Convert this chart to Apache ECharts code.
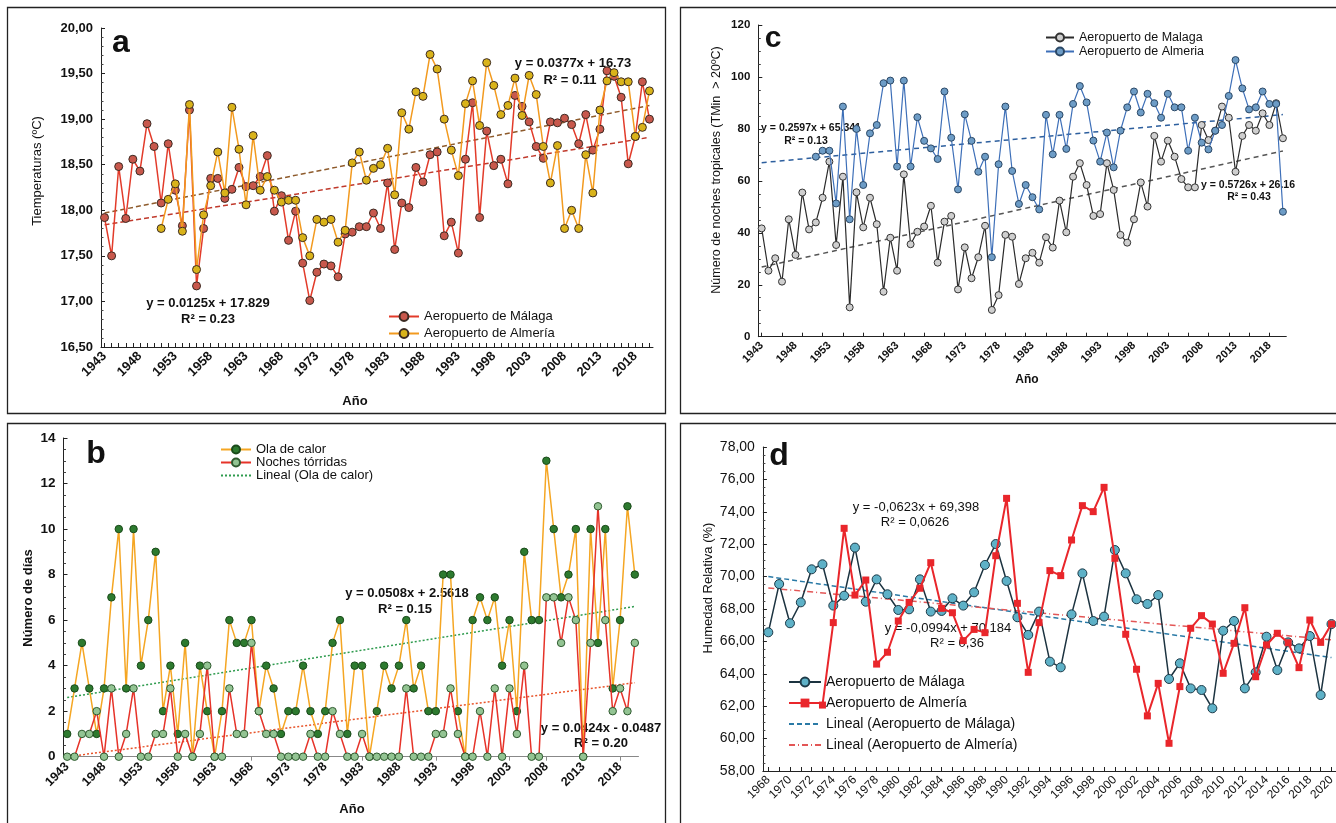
<!DOCTYPE html>
<html><head><meta charset="utf-8">
<script src="https://cdn.jsdelivr.net/npm/echarts@6/dist/echarts.min.js"></script>
<style>html,body{margin:0;padding:0;background:#fff}#c{width:1336px;height:823px}</style>
</head><body><div id="c"></div>
<script>
const F = '"Liberation Sans", Arial, sans-serif';

// ---------- categories ----------
const yearsLong = []; for (let y = 1943; y <= 2020; y++) yearsLong.push(String(y));
const yearsHum = []; for (let y = 1968; y <= 2020; y++) yearsHum.push(String(y));

// ---------- panel a: temperature (1943-2020) ----------
const tempMalaga = [17.92,17.50,18.48,17.91,18.56,18.43,18.95,18.70,18.08,18.73,
 18.22,17.83,19.10,17.17,17.80,18.35,18.35,18.13,18.23,18.47,
 18.26,18.27,18.37,18.60,17.99,18.16,17.67,17.99,17.42,17.01,
 17.32,17.41,17.39,17.27,17.74,17.76,17.82,17.82,17.97,17.80,
 18.30,17.57,18.08,18.03,18.47,18.31,18.61,18.64,17.72,17.87,
 17.53,18.56,19.18,17.92,18.87,18.49,18.56,18.29,19.26,19.14,
 18.97,18.70,18.57,18.97,18.96,19.01,18.94,18.73,19.05,18.66,
 18.89,19.53,19.47,19.24,18.51,18.81,19.41,19.00];
// Almería from 1951
const tempAlmeria = [17.80,18.12,18.29,17.77,19.16,17.35,17.95,18.27,18.64,18.19,
 19.13,18.67,18.06,18.82,18.22,18.37,18.22,18.09,18.11,18.11,
 17.70,17.50,17.90,17.87,17.90,17.65,17.78,18.52,18.64,18.33,
 18.46,18.50,18.68,18.17,19.07,18.89,19.30,19.25,19.71,19.55,
 19.00,18.66,18.38,19.17,19.42,18.93,19.62,19.37,19.05,19.15,
 19.45,19.04,19.48,19.27,18.70,18.30,18.71,17.80,18.00,17.80,
 18.61,18.19,19.10,19.42,19.51,19.41,19.41,18.81,18.91,19.31];
const tempTrendMalaga = [17.84, 18.80];
const tempTrendAlmeria = [17.97, 19.15];

// ---------- panel b: days (1943-2020) ----------
const olaCalor = [1,3,5,3,1,3,7,10,3,10,
 4,6,9,2,4,1,5,0,4,2,
 0,2,6,5,5,6,2,4,3,1,
 2,2,4,2,1,2,5,6,1,4,
 4,0,2,4,3,4,6,3,4,2,
 2,8,8,2,0,6,7,6,7,4,
 6,2,9,6,6,13,10,7,8,10,
 0,10,5,10,3,6,11,8];
const nochesTorridas = [0,0,1,1,2,0,3,0,1,3,
 0,0,1,1,3,0,1,0,1,4,
 0,0,3,1,1,5,2,1,1,0,
 0,0,0,1,0,0,2,1,0,0,
 1,0,0,0,0,0,3,0,0,0,
 1,1,3,1,0,0,2,0,3,0,
 3,1,4,0,0,7,7,5,7,6,
 0,5,11,6,2,3,2,5];
const trendOla = [2.6, 6.6];
const trendNoches = [0.0, 3.25];

// ---------- panel c: tropical nights (1943-2020) ----------
const tropMalaga = [41.7,25.4,30.2,21.2,45.2,31.5,55.5,41.3,44.0,53.5,
 67.4,35.3,61.6,11.3,55.6,42.1,53.5,43.3,17.3,38.1,
 25.4,62.5,35.6,40.4,42.4,50.4,28.5,44.3,46.5,18.2,
 34.4,22.5,30.6,42.7,10.3,16.0,39.2,38.5,20.3,30.2,
 32.3,28.5,38.3,34.3,52.4,40.2,61.6,66.8,58.4,46.5,
 47.2,66.8,56.5,39.2,36.2,45.2,59.4,50.1,77.3,67.4,
 75.5,69.3,60.7,57.5,57.5,81.5,75.7,79.3,88.6,84.3,
 63.5,77.3,81.5,79.3,86.0,81.5,89.9,76.4];
// Almería from 1951
const tropAlmeria = [69.3,71.6,71.6,51.3,88.6,45.2,80.0,58.4,78.3,81.5,
 97.6,98.6,65.5,98.6,65.5,84.5,75.4,72.5,68.4,94.4,
 76.6,56.7,85.6,75.4,63.5,69.3,30.6,66.4,88.6,63.8,
 51.1,58.4,53.7,49.0,85.4,70.2,85.4,72.3,89.6,96.5,
 90.2,75.5,67.4,78.6,65.2,79.3,88.3,94.4,86.3,93.5,
 89.9,84.3,93.5,88.3,88.3,71.6,84.3,74.7,72.1,79.3,
 81.5,92.7,106.5,95.6,87.5,88.3,94.4,89.6,89.6,48.1];
const tropTrendMalaga = [26.8, 71.5];
const tropTrendAlmeria = [67.0, 85.5];

// ---------- panel d: relative humidity (1968-2020) ----------
const humMalaga = [66.56,69.54,67.12,68.41,70.45,70.76,68.21,68.82,71.79,68.45,
 69.83,68.91,67.94,67.98,69.83,67.84,67.88,68.66,68.21,69.03,
 70.72,72.01,69.73,67.49,66.40,67.84,64.75,64.40,67.67,70.20,
 67.26,67.53,71.64,70.20,68.60,68.31,68.86,63.68,64.65,63.10,
 63.00,61.87,66.66,67.26,63.10,64.09,66.29,64.23,65.94,65.57,
 66.33,62.69,67.07];
// Almería from 1973
const humAlmeria = [62.07,67.16,72.98,68.86,69.79,64.60,65.33,67.26,68.41,69.28,
 70.86,68.04,67.77,66.05,66.74,66.54,71.29,74.83,68.35,64.09,
 67.16,70.37,70.06,72.26,74.38,74.01,75.51,71.13,66.44,64.28,
 61.40,63.41,59.71,63.21,66.81,67.59,67.07,64.03,65.88,68.08,
 63.82,65.78,66.50,65.92,64.38,67.32,65.94,67.07];
const humTrendMalaga = [70.0, 65.0];
const humTrendAlmeria = [69.3, 66.1];

// ---------- helpers ----------
function pad(arr, n) { return new Array(n - arr.length).fill(null).concat(arr); }
function trend(cats, ends) { return [[cats[0], ends[0]], [cats[cats.length - 1], ends[1]]]; }
const comma2 = v => v.toFixed(2).replace('.', ',');

function xAxis(gi, cats, o) {
  return {
    type: 'category', gridIndex: gi, data: cats, boundaryGap: true,
    axisLine: { lineStyle: { color: o.lineColor || '#222', width: 1 } },
    axisTick: { show: true, inside: o.tickInside !== false, length: 4, interval: o.tickInterval, alignWithLabel: true, lineStyle: { color: o.lineColor || '#222' } },
    axisLabel: { interval: o.labelInterval, rotate: 45, margin: o.margin || 7, color: '#111', fontFamily: F, fontSize: o.fs, fontWeight: o.fw || 'normal' },
    splitLine: { show: false }
  };
}
function yAxis(gi, o) {
  return {
    type: 'value', gridIndex: gi, min: o.min, max: o.max, interval: o.interval,
    axisLine: { show: true, lineStyle: { color: '#222', width: 1 } },
    axisTick: { show: true, inside: true, length: 4, lineStyle: { color: '#222' } },
    minorTick: { show: true, splitNumber: o.minor, length: 2.5, lineStyle: { color: '#444' } },
    axisLabel: { formatter: o.fmt, color: '#111', fontFamily: F, fontSize: o.fs, fontWeight: o.fw || 'normal', margin: o.margin || 8 },
    splitLine: { show: false }
  };
}
function dataLine(name, xi, data, lineColor, lineW, fill, border, sym, size, z) {
  return { name: name, type: 'line', xAxisIndex: xi, yAxisIndex: xi, data: data,
    symbol: sym, symbolSize: size, showSymbol: true, showAllSymbol: true,
    lineStyle: { color: lineColor, width: lineW },
    itemStyle: { color: fill, borderColor: border || fill, borderWidth: border ? 1 : 0 }, z: z };
}
function trendLine(name, xi, data, color, type) {
  return { name: name, type: 'line', xAxisIndex: xi, yAxisIndex: xi, data: data,
    symbol: 'circle', showSymbol: false, symbolSize: 0,
    lineStyle: { color: color, width: 1.5, type: type },
    itemStyle: { color: 'rgba(0,0,0,0)', borderWidth: 0 }, z: 2 };
}
function text(t, x, y, font, extra) {
  return Object.assign({ type: 'text', x: x, y: y, silent: true,
    style: { text: t, font: font, fill: '#111', textAlign: 'center', textVerticalAlign: 'middle' } }, extra || {});
}
function box(x, y, w, h) {
  return { type: 'rect', silent: true, shape: { x: x, y: y, width: w, height: h }, style: { fill: 'none', stroke: '#222', lineWidth: 1.3 } };
}

const nL = yearsLong.length;

const option = {
  animation: false,
  backgroundColor: '#fff',
  grid: [
    { left: 101, top: 28, width: 552, height: 319, outerBoundsMode: 'none' },
    { left: 63.5, top: 438, width: 575, height: 318.7, outerBoundsMode: 'none' },
    { left: 758.3, top: 25, width: 528, height: 311.7, outerBoundsMode: 'none' },
    { left: 762.9, top: 447, width: 574, height: 324, outerBoundsMode: 'none' }
  ],
  xAxis: [
    xAxis(0, yearsLong, { fs: 13, fw: 'bold', labelInterval: 4, tickInterval: 0 }),
    xAxis(1, yearsLong, { fs: 12.5, fw: 'bold', labelInterval: 4, tickInterval: 4, lineColor: '#888', tickInside: false, margin: 8 }),
    xAxis(2, yearsLong, { fs: 11, fw: 'bold', labelInterval: 4, tickInterval: 2 }),
    xAxis(3, yearsHum, { fs: 12, labelInterval: 1, tickInterval: 0 })
  ],
  yAxis: [
    yAxis(0, { min: 16.5, max: 20, interval: 0.5, minor: 5, fmt: comma2, fs: 13, fw: 'bold' }),
    yAxis(1, { min: 0, max: 14, interval: 2, minor: 4, fs: 13.5, fw: 'bold' }),
    yAxis(2, { min: 0, max: 120, interval: 20, minor: 4, fs: 11.5, fw: 'bold' }),
    yAxis(3, { min: 58, max: 78, interval: 2, minor: 4, fmt: comma2, fs: 14 })
  ],
  legend: [
    { left: 383, top: 305, orient: 'vertical', itemGap: 4, itemWidth: 30, itemHeight: 11, selectedMode: false,
      textStyle: { fontFamily: F, fontSize: 13, color: '#111' }, data: ['Aeropuerto de Málaga', 'Aeropuerto de Almería'] },
    { left: 215, top: 438, orient: 'vertical', itemGap: 0, itemWidth: 30, itemHeight: 10, selectedMode: false,
      textStyle: { fontFamily: F, fontSize: 13, color: '#111' }, data: ['Ola de calor', 'Noches tórridas', 'Lineal (Ola de calor)'] },
    { left: 1040, top: 26, orient: 'vertical', itemGap: 1, itemWidth: 28, itemHeight: 10, selectedMode: false,
      textStyle: { fontFamily: F, fontSize: 12.5, color: '#111' }, data: ['Aeropuerto de Malaga', 'Aeropuerto de Almeria'] },
    { left: 783, top: 670, orient: 'vertical', itemGap: 7, itemWidth: 32, itemHeight: 11, selectedMode: false,
      textStyle: { fontFamily: F, fontSize: 14, color: '#111' },
      data: ['Aeropuerto de Málaga ', 'Aeropuerto de Almería ', 'Lineal (Aeropuerto de Málaga)', 'Lineal (Aeropuerto de Almería)'] }
  ],
  series: [
    // panel a
    trendLine('trendA_alm', 0, trend(yearsLong, tempTrendAlmeria), '#8e5b2c', [5, 3]),
    trendLine('trendA_mal', 0, trend(yearsLong, tempTrendMalaga), '#c0392b', [5, 3]),
    dataLine('Aeropuerto de Málaga', 0, tempMalaga, '#e23b2a', 1.5, '#c8584c', '#3b2a22', 'circle', 8, 3),
    dataLine('Aeropuerto de Almería', 0, pad(tempAlmeria, nL), '#f29a1f', 1.5, '#d9b31a', '#3b2a22', 'circle', 8, 4),
    // panel b
    trendLine('Lineal (Ola de calor)', 1, trend(yearsLong, trendOla), '#2e9b4e', [2, 2]),
    trendLine('trendB_noches', 1, trend(yearsLong, trendNoches), '#e8542a', [2, 2]),
    dataLine('Ola de calor', 1, olaCalor, '#f5a623', 1.5, '#2d7a2f', '#1a4a1a', 'circle', 7.5, 3),
    dataLine('Noches tórridas', 1, nochesTorridas, '#e63329', 1.5, '#93c493', '#2f5a2f', 'circle', 7.5, 4),
    // panel c
    trendLine('trendC_alm', 2, trend(yearsLong, tropTrendAlmeria), '#2d5f9e', [5, 4]),
    trendLine('trendC_mal', 2, trend(yearsLong, tropTrendMalaga), '#555555', [5, 4]),
    dataLine('Aeropuerto de Malaga', 2, tropMalaga, '#2b2b2b', 1.2, '#cfcfcf', '#333333', 'circle', 7, 3),
    dataLine('Aeropuerto de Almeria', 2, pad(tropAlmeria, nL), '#3d6fb8', 1.2, '#6d9cc6', '#2b4866', 'circle', 7, 4),
    // panel d
    trendLine('Lineal (Aeropuerto de Málaga)', 3, trend(yearsHum, humTrendMalaga), '#2a7aa6', [5, 3]),
    trendLine('Lineal (Aeropuerto de Almería)', 3, trend(yearsHum, humTrendAlmeria), '#e35656', [6, 3, 1, 3]),
    dataLine('Aeropuerto de Málaga ', 3, humMalaga, '#1c3340', 1.5, '#5eb1c7', '#1d3a48', 'circle', 9, 3),
    dataLine('Aeropuerto de Almería ', 3, pad(humAlmeria, yearsHum.length), '#e9262b', 2, '#e9262b', null, 'rect', 7, 4)
  ],
  graphic: [
    box(7.5, 7.5, 658, 406), box(7.5, 423.5, 658, 420), box(680.5, 7.5, 700, 406), box(680.5, 423.5, 700, 420),
    // letters
    text('a', 121, 43, 'bold 32px ' + F),
    text('b', 96, 454, 'bold 32px ' + F),
    text('c', 773, 39, 'bold 30px ' + F),
    text('d', 779, 456, 'bold 32px ' + F),
    // axis names
    text('Tiemperaturas (ºC)', 37, 171, '13px ' + F, { rotation: Math.PI / 2 }),
    text('Año', 355, 401, 'bold 13px ' + F),
    text('Número de días', 28, 598, 'bold 13px ' + F, { rotation: Math.PI / 2 }),
    text('Año', 352, 809, 'bold 13px ' + F),
    text('Número de noches tropicales (TMin  > 20ºC)', 717, 170, '12.5px ' + F, { rotation: Math.PI / 2 }),
    text('Año', 1027, 380, 'bold 12px ' + F),
    text('Humedad Relativa (%)', 708, 588, '13px ' + F, { rotation: Math.PI / 2 }),
    text('Año', 1047, 828, '13px ' + F),
    // equations
    text('y = 0.0125x + 17.829', 208, 303, 'bold 13px ' + F),
    text('R² = 0.23', 208, 319, 'bold 13px ' + F),
    text('y = 0.0377x + 16.73', 573, 63, 'bold 13px ' + F),
    text('R² = 0.11', 570, 80, 'bold 13px ' + F),
    text('y = 0.0508x + 2.5618', 407, 593, 'bold 13px ' + F),
    text('R² = 0.15', 405, 609, 'bold 13px ' + F),
    text('y = 0.0424x - 0.0487', 601, 728, 'bold 13px ' + F),
    text('R² = 0.20', 601, 743, 'bold 13px ' + F),
    text('y = 0.2597x + 65.341', 811, 128, 'bold 10.5px ' + F),
    text('R² = 0.13', 806, 141, 'bold 10.5px ' + F),
    text('y = 0.5726x + 26.16', 1248, 185, 'bold 10.5px ' + F),
    text('R² = 0.43', 1249, 197, 'bold 10.5px ' + F),
    text('y = -0,0623x + 69,398', 916, 507, '13px ' + F),
    text('R² = 0,0626', 915, 522, '13px ' + F),
    text('y = -0,0994x + 70,184', 948, 628, '13px ' + F),
    text('R² = 0,36', 957, 643, '13px ' + F)
  ]
};

const chart = echarts.init(document.getElementById('c'), null, { renderer: 'canvas' });
chart.setOption(option);
</script>
</body></html>
